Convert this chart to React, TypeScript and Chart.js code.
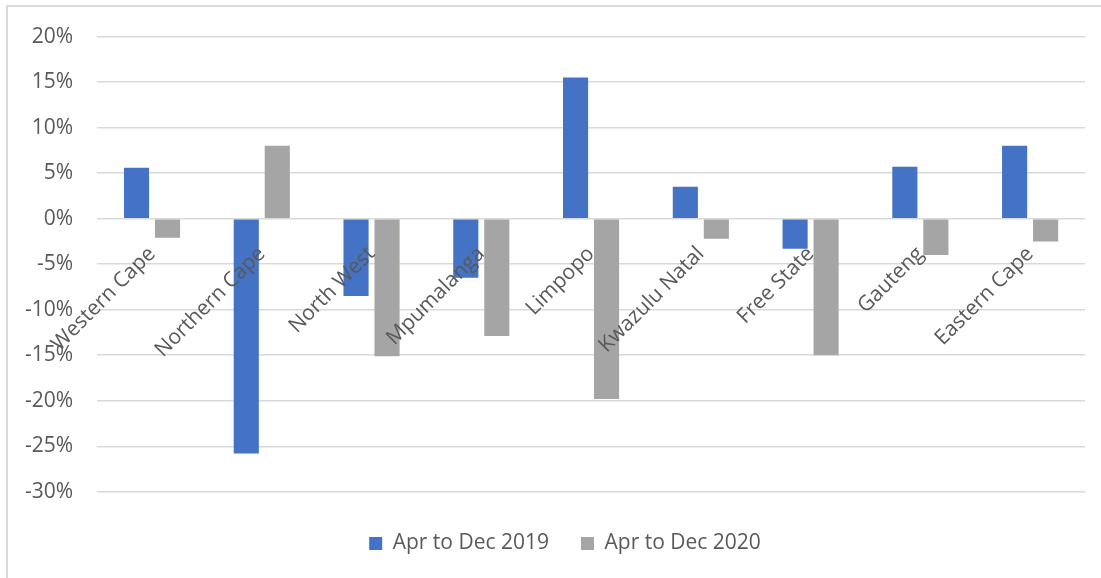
import React, { useEffect, useRef } from "react";
import { Chart, registerables } from "chart.js";

Chart.register(...registerables);

const categories = [
  "Western Cape",
  "Northern Cape",
  "North West",
  "Mpumalanga",
  "Limpopo",
  "Kwazulu Natal",
  "Free State",
  "Gauteng",
  "Eastern Cape",
];
const series2019 = [5.6, -25.8, -8.5, -6.5, 15.5, 3.5, -3.3, 5.7, 8.0];
const series2020 = [-2.1, 8.0, -15.1, -12.9, -19.8, -2.2, -15.0, -4.0, -2.5];
const seriesNames = ["Apr to Dec 2019", "Apr to Dec 2020"];
const yMin = -30;
const yMax = 20;
const yStep = 5;

const FONT = "'Open Sans', 'Noto Sans', sans-serif";
const TEXT = "#595959";
const GRID = "#d9d9d9";

const legendShift = {
  id: "legendShift",
  afterLayout(chart: any) {
    const lg = chart.legend;
    if (lg) {
      lg.left += 22;
      lg.right += 22;
    }
  },
};

export default function App() {
  const ref = useRef<HTMLCanvasElement | null>(null);

  useEffect(() => {
    if (!ref.current) return;
    const chart = new Chart(ref.current, {
      type: "bar",
      data: {
        labels: categories,
        datasets: [
          {
            label: seriesNames[0],
            data: series2019,
            backgroundColor: "#4472C4",
            borderWidth: 0,
            categoryPercentage: 0.565,
            barPercentage: 0.81,
          },
          {
            label: seriesNames[1],
            data: series2020,
            backgroundColor: "#A5A5A5",
            borderWidth: 0,
            categoryPercentage: 0.565,
            barPercentage: 0.81,
          },
        ],
      },
      plugins: [legendShift],
      options: {
        responsive: false,
        animation: false,
        devicePixelRatio: 1,
        layout: { padding: { left: 1, right: 16, top: 34, bottom: 14 } },
        plugins: {
          tooltip: { enabled: false },
          legend: {
            position: "bottom",
            title: {
              display: true,
              text: "",
              font: { size: 1 },
              padding: { top: 0, bottom: 8 },
            },
            labels: {
              color: TEXT,
              font: { family: FONT, size: 21 },
              boxWidth: 13,
              boxHeight: 13,
              padding: 32,
            },
          },
        },
        scales: {
          x: {
            position: { y: 0 } as any,
            grid: { display: false, drawTicks: false },
            border: { display: false },
            ticks: {
              z: 1,
              color: TEXT,
              font: { family: FONT, size: 21 },
              minRotation: 45,
              maxRotation: 45,
              autoSkip: false,
              padding: 23,
            },
          },
          y: {
            min: yMin,
            max: yMax,
            grid: { color: GRID, lineWidth: 1.5, drawTicks: false },
            border: { display: false },
            ticks: {
              stepSize: yStep,
              color: TEXT,
              font: { family: FONT, size: 21 },
              padding: 24,
              callback: (v: any) => `${v}%`,
            },
          },
        },
      },
    });
    return () => chart.destroy();
  }, []);

  return (
    <div
      style={{
        position: "fixed",
        left: 0,
        top: 0,
        width: 1101,
        height: 578,
        background: "#fff",
        overflow: "hidden",
      }}
    >
      <div
        style={{
          position: "absolute",
          left: 6,
          top: 5,
          width: 1300,
          height: 800,
          borderTop: `2px solid ${GRID}`,
          borderLeft: `2px solid ${GRID}`,
        }}
      />
      <canvas
        ref={ref}
        width={1101}
        height={578}
        style={{ position: "absolute", left: 0, top: 0 }}
      />
    </div>
  );
}
